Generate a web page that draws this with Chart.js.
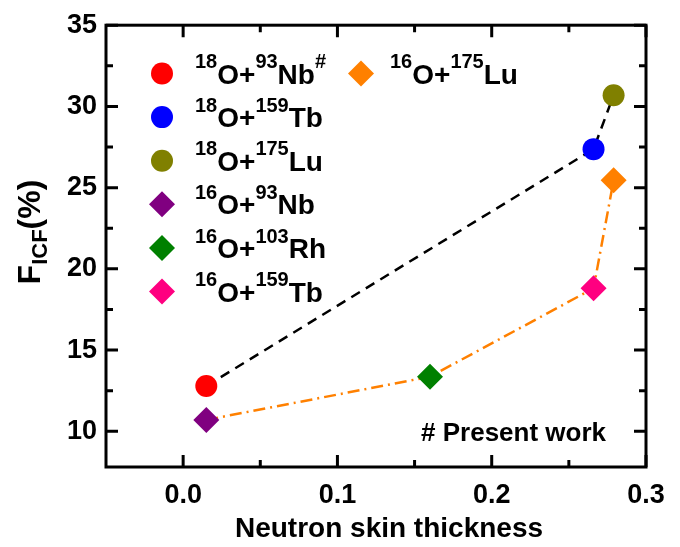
<!DOCTYPE html>
<html>
<head>
<meta charset="utf-8">
<script src="https://cdn.jsdelivr.net/npm/chart.js@4.4.0/dist/chart.umd.min.js"></script>
<style>
html, body { margin: 0; padding: 0; background: #fff; }
#wrap { width: 680px; height: 547px; }
</style>
</head>
<body>
<div id="wrap"><canvas id="chartCanvas" width="680" height="547"></canvas></div>
<script>
// sistemas (ordem da legenda) - chaves = sobrescrito
const sistemas = ["{18}O+{93}Nb{#}", "{18}O+{159}Tb", "{18}O+{175}Lu", "{16}O+{93}Nb", "{16}O+{103}Rh", "{16}O+{159}Tb", "{16}O+{175}Lu"];
// espessura da pele de neutrons
const pele = [0.015, 0.266, 0.279, 0.015, 0.160, 0.266, 0.279];
// F_ICF (%)
const ficf = [12.79, 27.37, 30.69, 10.70, 13.36, 18.80, 25.45];
const cores = ["#FF0000", "#0000FF", "#808000", "#800080", "#008000", "#FF0080", "#FF8000"];
const estilos = ["circle", "circle", "circle", "rectRot", "rectRot", "rectRot", "rectRot"];
const raios = [11, 11, 11, 13, 13, 13, 13];
// pontos ligados por linha
const linha18 = [0, 1, 2];
const linha16 = [3, 4, 5, 6];
// ticks
const xTicks = [0.0, 0.1, 0.2, 0.3];
const xMinor = [0.05, 0.15, 0.25];
const yTicks = [10, 15, 20, 25, 30, 35];
const yMinor = [12.5, 17.5, 22.5, 27.5, 32.5];

const FONTE = '"Liberation Sans", Arial, sans-serif';

function drawRich(ctx, text, x, y, size, supSize) {
  const parts = text.split(/(\{[^}]*\})/).filter(s => s);
  let cx = x;
  parts.forEach(p => {
    const sup = p.startsWith("{");
    const t = sup ? p.slice(1, -1) : p;
    ctx.font = `bold ${sup ? supSize : size}px ${FONTE}`;
    ctx.fillText(t, cx, sup ? y - size * 0.55 : y);
    cx += ctx.measureText(t).width;
  });
}

// === datasets ===
const datasets = [];
sistemas.forEach((s, i) => {
  datasets.push({
    label: s,
    data: [{ x: pele[i], y: ficf[i] }],
    pointStyle: estilos[i],
    pointRadius: raios[i],
    pointBackgroundColor: cores[i],
    pointBorderWidth: 0,
    showLine: false,
    order: 1
  });
});
datasets.push({
  label: "linha18",
  data: linha18.map(i => ({ x: pele[i], y: ficf[i] })),
  showLine: true, pointRadius: 0, borderColor: "#000", borderWidth: 2.5,
  borderDash: [10, 7], fill: false, order: 2
});
datasets.push({
  label: "linha16",
  data: linha16.map(i => ({ x: pele[i], y: ficf[i] })),
  showLine: true, pointRadius: 0, borderColor: "#FF8000", borderWidth: 2.5,
  borderDash: [12, 5, 2, 5], fill: false, order: 2
});

// === moldura, ticks internos, legenda e titulos ===
const extras = {
  id: "extras",
  afterDraw(chart) {
    const ctx = chart.ctx;
    const a = chart.chartArea;
    const xs = chart.scales.x, ys = chart.scales.y;
    ctx.save();
    ctx.strokeStyle = "#000";
    ctx.lineWidth = 3;
    ctx.lineCap = "butt";
    ctx.strokeRect(a.left, a.top, a.right - a.left, a.bottom - a.top);
    ctx.beginPath();
    const tickX = (vals, len) => vals.forEach(v => {
      const px = xs.getPixelForValue(v);
      ctx.moveTo(px, a.bottom); ctx.lineTo(px, a.bottom - len);
      ctx.moveTo(px, a.top); ctx.lineTo(px, a.top + len);
    });
    const tickY = (vals, len) => vals.forEach(v => {
      const py = ys.getPixelForValue(v);
      ctx.moveTo(a.left, py); ctx.lineTo(a.left + len, py);
      ctx.moveTo(a.right, py); ctx.lineTo(a.right - len, py);
    });
    tickX(xTicks, 12); tickX(xMinor, 7);
    tickY(yTicks, 12); tickY(yMinor, 7);
    ctx.stroke();

    // legenda
    ctx.fillStyle = "#000";
    ctx.textBaseline = "alphabetic";
    ctx.textAlign = "left";
    sistemas.forEach((s, i) => {
      let mx, tx, my;
      if (i < 6) { mx = 162; tx = 195; my = 73.5 + i * 43.6; }
      else { mx = 361; tx = 390; my = 73.5; }
      ctx.fillStyle = cores[i];
      Chart.helpers.drawPoint(ctx, { pointStyle: estilos[i], radius: raios[i], rotation: 0, borderWidth: 0 }, mx, my);
      ctx.fillStyle = "#000";
      drawRich(ctx, s, tx, my + 10, 28, 20);
    });

    // nota
    ctx.font = `bold 26px ${FONTE}`;
    ctx.textAlign = "right";
    ctx.fillText("# Present work", 606, 441);

    // titulo x
    ctx.font = `bold 28px ${FONTE}`;
    ctx.textAlign = "center";
    ctx.fillText("Neutron skin thickness", 389, 537);

    // titulo y
    ctx.save();
    ctx.translate(28, 232);
    ctx.rotate(-Math.PI / 2);
    ctx.textAlign = "left";
    ctx.font = `bold 32px ${FONTE}`;
    const wF = ctx.measureText("F").width, wP = ctx.measureText("(%)").width;
    ctx.font = `bold 22px ${FONTE}`;
    const wS = ctx.measureText("ICF").width;
    let x0 = -(wF + wS + wP) / 2;
    ctx.font = `bold 32px ${FONTE}`;
    ctx.fillText("F", x0, 11.5);
    ctx.font = `bold 22px ${FONTE}`;
    ctx.fillText("ICF", x0 + wF, 19);
    ctx.font = `bold 32px ${FONTE}`;
    ctx.fillText("(%)", x0 + wF + wS, 11.5);
    ctx.restore();
    ctx.restore();
  }
};

const tickFont = { family: FONTE, weight: "bold", size: 27 };

new Chart(document.getElementById("chartCanvas"), {
  type: "scatter",
  data: { datasets },
  options: {
    responsive: false,
    animation: false,
    layout: { padding: { top: 22, right: 34, left: 0, bottom: 0 } },
    plugins: { legend: { display: false }, tooltip: { enabled: false } },
    scales: {
      x: {
        type: "linear", min: -0.05, max: 0.3,
        grid: { display: false, drawTicks: false },
        border: { display: false },
        afterBuildTicks: s => { s.ticks = xTicks.map(v => ({ value: v })); },
        afterFit: s => { s.height = 80; },
        ticks: { padding: 12, color: "#000", font: tickFont, callback: v => Number(v).toFixed(1) }
      },
      y: {
        type: "linear", min: 7.8, max: 35,
        grid: { display: false, drawTicks: false },
        border: { display: false },
        afterBuildTicks: s => { s.ticks = yTicks.map(v => ({ value: v })); },
        afterFit: s => { s.width = 106; },
        ticks: { padding: 9, color: "#000", font: tickFont, callback: v => String(v) }
      }
    }
  },
  plugins: [extras]
});
</script>
</body>
</html>
